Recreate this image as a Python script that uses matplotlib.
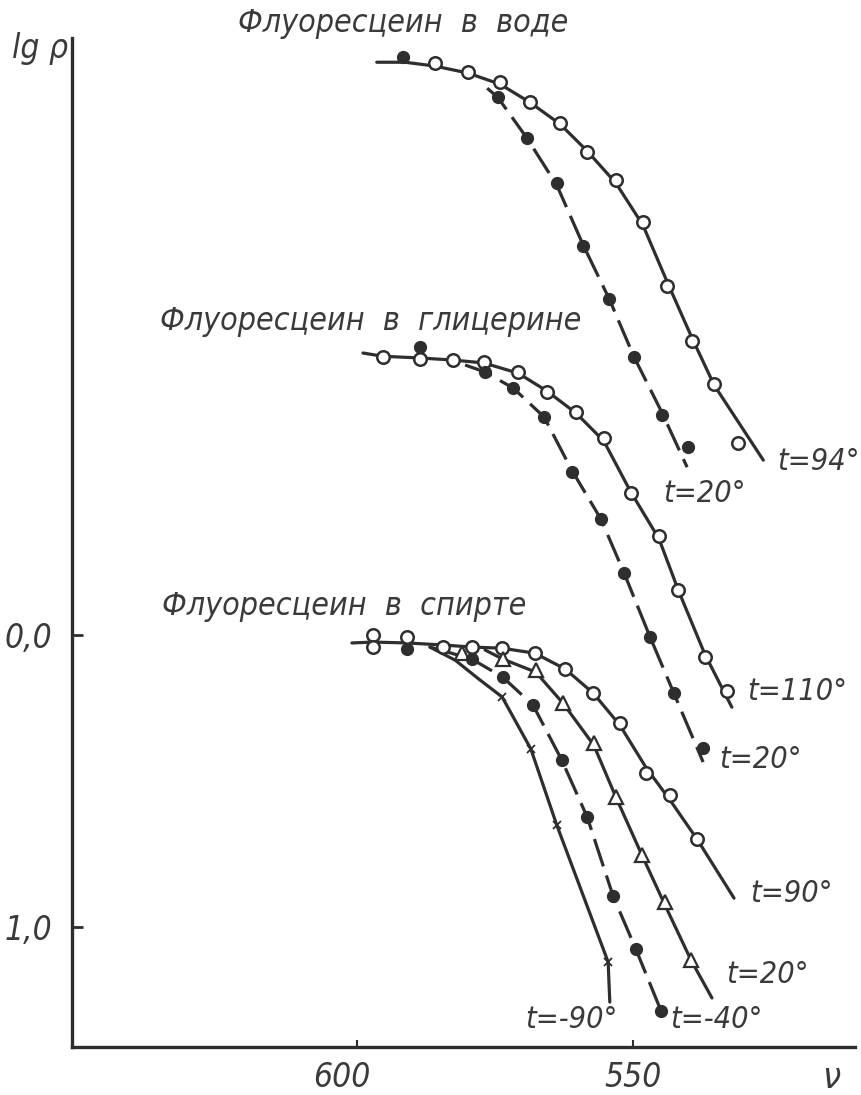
import matplotlib
matplotlib.use('Agg')
import matplotlib.pyplot as plt
import matplotlib.transforms as mtrans

# --- fluorescein in water (wavelength nu, lg p) ---
water94_v = [585.9, 579.9, 574.1, 568.7, 563.2, 558.3, 553.1, 548.2, 543.8, 539.3, 535.3, 531.0]
water94_y = [-1.959, -1.928, -1.894, -1.825, -1.753, -1.654, -1.558, -1.414, -1.195, -1.007, -0.860, -0.658]
water94_line_v = [596.4, 591.3, 585.9, 579.9, 574.1, 568.7, 563.2, 558.3, 553.1, 548.2, 543.8, 539.3, 535.3, 526.4]
water94_line_y = [-1.962, -1.962, -1.949, -1.925, -1.887, -1.825, -1.750, -1.658, -1.548, -1.404, -1.209, -1.017, -0.856, -0.599]
water20_v = [591.7, 574.5, 569.2, 563.8, 559.1, 554.3, 549.8, 544.7, 540.0]
water20_y = [-1.979, -1.842, -1.702, -1.548, -1.332, -1.151, -0.952, -0.753, -0.644]
water20_line_v = [576.4, 574.5, 569.2, 563.8, 559.1, 554.3, 549.8, 544.7, 540.2]
water20_line_y = [-1.873, -1.842, -1.702, -1.541, -1.339, -1.151, -0.952, -0.760, -0.575]

# --- fluorescein in glycerine ---
gly110_v = [595.3, 588.6, 582.6, 577.0, 570.8, 565.6, 560.3, 555.3, 550.4, 545.3, 541.8, 537.0, 533.0]
gly110_y = [-0.952, -0.945, -0.942, -0.935, -0.901, -0.832, -0.764, -0.675, -0.486, -0.339, -0.154, 0.075, 0.192]
gly110_line_v = [598.9, 595.3, 588.6, 582.6, 577.0, 570.8, 565.6, 560.3, 555.3, 550.4, 545.3, 541.8, 537.0, 532.1]
gly110_line_y = [-0.966, -0.955, -0.949, -0.942, -0.932, -0.897, -0.836, -0.760, -0.665, -0.490, -0.330, -0.154, 0.065, 0.247]
gly20_v = [588.6, 576.8, 571.7, 566.1, 561.1, 555.8, 551.6, 546.9, 542.6, 537.3]
gly20_y = [-0.986, -0.901, -0.846, -0.747, -0.558, -0.397, -0.212, 0.007, 0.199, 0.387]
gly20_line_v = [580.4, 576.8, 571.7, 566.1, 561.1, 555.8, 551.6, 546.9, 542.6, 537.3]
gly20_line_y = [-0.925, -0.901, -0.846, -0.747, -0.565, -0.397, -0.212, 0.007, 0.199, 0.435]

# --- fluorescein in alcohol ---
alc90_v = [597.1, 597.1, 590.9, 584.4, 579.2, 573.7, 567.8, 562.3, 557.2, 552.4, 547.6, 543.3, 538.4]
alc90_y = [0.000, 0.041, 0.007, 0.041, 0.041, 0.045, 0.062, 0.116, 0.199, 0.301, 0.473, 0.548, 0.699]
alc90_line_v = [600.9, 597.1, 590.9, 584.4, 579.2, 573.7, 567.8, 562.3, 557.2, 552.4, 547.6, 543.3, 538.4, 531.7]
alc90_line_y = [0.027, 0.024, 0.027, 0.034, 0.041, 0.045, 0.062, 0.116, 0.199, 0.308, 0.455, 0.565, 0.699, 0.901]
alc20_v = [581.0, 573.6, 567.6, 562.7, 557.1, 553.1, 548.4, 544.2, 539.5]
alc20_y = [0.062, 0.082, 0.120, 0.233, 0.370, 0.555, 0.753, 0.914, 1.113]
alc20_line_v = [576.8, 573.6, 567.6, 562.7, 557.1, 553.1, 548.4, 544.2, 539.5, 535.7]
alc20_line_y = [0.051, 0.082, 0.127, 0.233, 0.377, 0.555, 0.753, 0.925, 1.113, 1.243]
alc40_v = [590.9, 579.2, 573.6, 568.1, 562.9, 558.3, 553.6, 549.5, 544.9]
alc40_y = [0.048, 0.082, 0.144, 0.240, 0.428, 0.623, 0.894, 1.075, 1.288]
alc40_line_v = [586.8, 579.2, 573.6, 568.1, 562.9, 558.3, 553.6, 549.5, 544.9]
alc40_line_y = [0.041, 0.082, 0.144, 0.240, 0.428, 0.623, 0.894, 1.075, 1.288]
alc90m_v = [573.7, 568.5, 563.8, 554.5]
alc90m_y = [0.212, 0.390, 0.651, 1.120]
alc90m_line_v = [586.8, 582.2, 577.7, 573.7, 568.5, 563.8, 554.5, 554.2]
alc90m_line_y = [0.041, 0.086, 0.154, 0.212, 0.390, 0.651, 1.120, 1.257]

titles = ['Флуоресцеин  в  воде', 'Флуоресцеин  в  глицерине', 'Флуоресцеин  в  спирте']
title_pos = [(621.6, -2.065), (635.7, -1.045), (635.3, -0.068)]
labels = ['t=94°', 't=20°', 't=110°', 't=20°', 't=90°', 't=20°', 't=-90°', 't=-40°']
label_pos = [(523.9, -0.565), (544.6, -0.455), (529.3, 0.223), (534.4, 0.455),
             (528.8, 0.914), (533.2, 1.192), (569.6, 1.346), (543.3, 1.346)]

ink = '#2e2e2e'
txt = '#3a3a3a'
plt.rcParams['font.family'] = ['DejaVu Sans']
plt.rcParams['font.stretch'] = 'condensed'
plt.rcParams['font.style'] = 'italic'

fig = plt.figure(figsize=(8.61, 10.95), dpi=100)
ax = fig.add_axes([0.0836, 0.0438, 0.9094, 0.9215])

lw = 2.3
solid = dict(color=ink, lw=lw, solid_capstyle='round')
dashed = dict(color=ink, lw=lw, dashes=(9, 3))
openc = dict(ls='none', marker='o', ms=9, mfc='white', mec=ink, mew=1.8, zorder=5)
fillc = dict(ls='none', marker='o', ms=8.5, mfc=ink, mec=ink, zorder=5)

ax.plot(water94_line_v, water94_line_y, **solid)
ax.plot(water20_line_v, water20_line_y, **dashed)
ax.plot(water94_v, water94_y, **openc)
ax.plot(water20_v, water20_y, **fillc)

ax.plot(gly110_line_v, gly110_line_y, **solid)
ax.plot(gly20_line_v, gly20_line_y, **dashed)
ax.plot(gly110_v, gly110_y, **openc)
ax.plot(gly20_v, gly20_y, **fillc)

ax.plot(alc90_line_v, alc90_line_y, **solid)
ax.plot(alc20_line_v, alc20_line_y, **solid)
ax.plot(alc40_line_v, alc40_line_y, **dashed)
ax.plot(alc90m_line_v, alc90m_line_y, **solid)
ax.plot(alc90_v, alc90_y, **openc)
ax.plot(alc20_v, alc20_y, ls='none', marker='^', ms=10, mfc='white', mec=ink, mew=1.6, zorder=5)
ax.plot(alc40_v, alc40_y, **fillc)
ax.plot(alc90m_v, alc90m_y, ls='none', marker='x', ms=6, mec=ink, mew=1.3, zorder=5)

for t, (x, y) in zip(titles, title_pos):
    ax.text(x, y, t, fontsize=23, color=txt, ha='left', va='baseline')
for t, (x, y) in zip(labels, label_pos):
    ax.text(x, y, t, fontsize=22, color=txt, ha='left', va='baseline')

ax.set_xlim(651.6, 509.8)
ax.set_ylim(1.411, -2.045)
for s in ['top', 'right']:
    ax.spines[s].set_visible(False)
for s in ['left', 'bottom']:
    ax.spines[s].set_linewidth(2.4)
    ax.spines[s].set_color(ink)

ax.set_yticks([0, 1])
ax.set_yticklabels(['0,0', '1,0'])
ax.set_xticks([600, 550])
ax.set_xticklabels(['600', '550'])
ax.tick_params(axis='y', direction='in', length=8, width=2, color=ink, pad=14,
               labelsize=24, labelcolor=txt)
ax.tick_params(axis='x', direction='in', length=5, width=1.5, color=ink, pad=10,
               labelsize=24, labelcolor=txt)
# the printed 600 label sits a little left of its tick
xlabs = ax.get_xticklabels()
xlabs[0].set_transform(xlabs[0].get_transform() +
                       mtrans.ScaledTranslation(-0.15, 0, fig.dpi_scale_trans))

fig.text(12 / 861, 1 - 58 / 1095, 'lg ρ', fontsize=24, color=txt)
fig.text(822 / 861, 1 - 1088 / 1095, 'ν', fontsize=26, color=txt)

plt.savefig('out.png', dpi=100)
